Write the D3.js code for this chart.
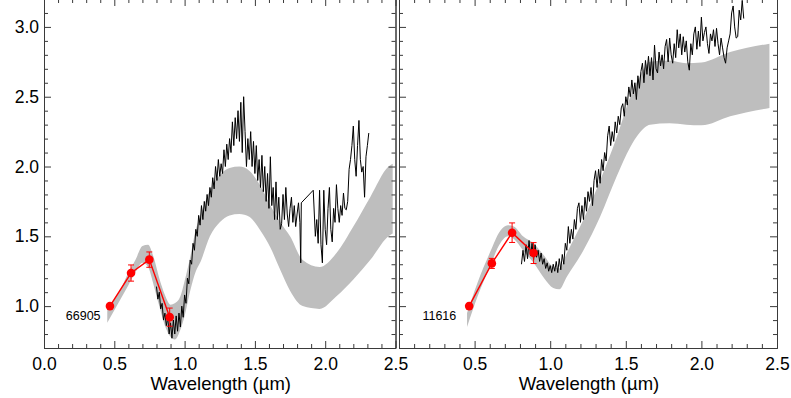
<!DOCTYPE html>
<html>
<head>
<meta charset="utf-8">
<script src="https://cdn.jsdelivr.net/npm/d3@7"></script>
<style>
	body { margin: 0; background: #fff; }
	svg { display: block; font-family: "Liberation Sans", Arial, Helvetica, sans-serif; }
</style>
</head>
<body>
<div id="chart"></div>
<script>
var objectNames = ["66905", "11616"];

var xMajor = [0.0, 0.5, 1.0, 1.5, 2.0, 2.5];
var yMajor = [1.0, 1.5, 2.0, 2.5, 3.0];

// photometry: wavelength, flux, error
var photLeft = [[0.469, 1.000, 0], [0.619, 1.237, 0.058], [0.749, 1.333, 0.055], [0.894, 0.921, 0.065]];
var photRight = [[0.464, 1.000, 0], [0.614, 1.306, 0.036], [0.748, 1.526, 0.070], [0.890, 1.380, 0.075]];

// model envelope: wavelength, lower, upper
var bandLeft = [
	[0.45, 0.88, 0.98], [0.50, 0.97, 1.05], [0.55, 1.06, 1.13], [0.60, 1.15, 1.24],
	[0.65, 1.24, 1.33], [0.70, 1.31, 1.43], [0.74, 1.28, 1.44], [0.78, 1.15, 1.35],
	[0.82, 1.00, 1.20], [0.86, 0.86, 1.08], [0.90, 0.78, 1.01], [0.93, 0.76, 1.02],
	[0.97, 0.83, 1.07], [1.00, 0.93, 1.18], [1.04, 1.11, 1.35], [1.08, 1.25, 1.55],
	[1.11, 1.31, 1.64], [1.18, 1.50, 1.83], [1.25, 1.60, 1.94], [1.32, 1.65, 1.99],
	[1.39, 1.66, 2.00], [1.46, 1.64, 1.97], [1.54, 1.54, 1.86], [1.61, 1.42, 1.72],
	[1.68, 1.26, 1.60], [1.75, 1.11, 1.50], [1.84, 1.00, 1.33], [1.96, 0.98, 1.28],
	[2.08, 1.07, 1.38], [2.20, 1.19, 1.57], [2.32, 1.33, 1.78], [2.45, 1.50, 2.00],
	[2.48, 1.52, 2.02]
];
var bandRight = [
	[0.45, 0.85, 0.95], [0.52, 1.07, 1.17], [0.60, 1.28, 1.38], [0.67, 1.45, 1.54],
	[0.72, 1.50, 1.58], [0.76, 1.48, 1.57], [0.82, 1.40, 1.50], [0.89, 1.31, 1.45],
	[0.96, 1.20, 1.36], [1.02, 1.13, 1.28], [1.06, 1.12, 1.27], [1.11, 1.21, 1.38],
	[1.22, 1.40, 1.62], [1.33, 1.64, 1.90], [1.44, 1.93, 2.21], [1.53, 2.14, 2.50],
	[1.59, 2.24, 2.64], [1.66, 2.30, 2.75], [1.79, 2.31, 2.76], [1.90, 2.30, 2.74],
	[2.00, 2.295, 2.745], [2.19, 2.36, 2.82], [2.45, 2.42, 2.88]
];

// observed spectra: wavelength, flux
var specLeft = [
	[0.80, 1.14], [0.81, 1.05], [0.82, 1.10], [0.83, 0.98], [0.84, 1.02], [0.85, 0.90],
	[0.86, 0.95], [0.87, 0.86], [0.88, 0.92], [0.89, 0.80], [0.90, 0.88], [0.91, 0.77],
	[0.92, 0.90], [0.93, 0.80], [0.94, 0.93], [0.95, 0.82], [0.96, 0.95], [0.97, 0.85],
	[0.98, 1.00], [0.99, 0.92], [1.00, 1.08], [1.01, 1.02], [1.02, 1.20], [1.03, 1.16],
	[1.04, 1.33], [1.05, 1.30], [1.06, 1.45], [1.07, 1.40], [1.08, 1.55], [1.09, 1.50],
	[1.10, 1.65], [1.11, 1.58], [1.12, 1.72], [1.13, 1.62], [1.14, 1.75], [1.15, 1.68],
	[1.16, 1.80], [1.17, 1.72], [1.18, 1.85], [1.19, 1.78], [1.20, 1.92], [1.21, 1.84],
	[1.22, 2.00], [1.23, 1.90], [1.24, 2.05], [1.25, 1.93], [1.26, 2.02], [1.27, 1.95],
	[1.28, 2.12], [1.29, 2.00], [1.30, 2.16], [1.31, 2.05], [1.32, 2.20], [1.33, 2.10],
	[1.34, 2.32], [1.35, 2.15], [1.36, 2.35], [1.37, 2.20], [1.38, 2.40], [1.39, 2.18],
	[1.40, 2.46], [1.41, 2.10], [1.42, 2.50], [1.43, 2.25], [1.44, 2.00], [1.45, 2.20],
	[1.46, 2.05], [1.47, 2.25], [1.48, 2.00], [1.49, 2.18], [1.50, 1.95], [1.51, 2.15],
	[1.52, 1.90], [1.53, 2.05], [1.54, 1.85], [1.55, 2.08], [1.56, 1.82], [1.57, 2.00],
	[1.58, 1.75], [1.59, 1.95], [1.60, 1.70], [1.61, 2.07], [1.62, 1.72], [1.63, 1.85],
	[1.64, 1.62], [1.65, 1.89], [1.66, 1.62], [1.67, 1.78], [1.68, 1.55], [1.69, 1.59],
	[1.70, 1.80], [1.71, 1.62], [1.72, 1.85], [1.73, 1.66], [1.74, 1.57], [1.75, 1.70],
	[1.76, 1.78], [1.77, 1.60], [1.78, 1.72], [1.79, 1.57], [1.80, 1.66], [1.81, 1.74],
	[1.82, 1.60], [1.826, 1.31], [1.83, 1.74], [1.915, 1.83], [1.93, 1.50], [1.94, 1.62],
	[1.95, 1.45], [1.96, 1.83], [1.97, 1.44], [1.98, 1.31], [1.99, 1.83], [2.00, 1.55],
	[2.01, 1.44], [2.02, 1.70], [2.03, 1.85], [2.04, 1.55], [2.05, 1.46], [2.06, 1.70],
	[2.07, 1.60], [2.08, 1.87], [2.09, 1.70], [2.10, 1.60], [2.11, 1.72], [2.12, 1.65],
	[2.13, 1.81], [2.14, 1.70], [2.15, 1.69], [2.16, 1.75], [2.17, 1.98], [2.18, 2.05],
	[2.19, 2.15], [2.20, 2.29], [2.21, 2.05], [2.22, 1.93], [2.23, 2.15], [2.24, 2.33],
	[2.25, 2.05], [2.26, 1.96], [2.27, 2.00], [2.28, 1.78], [2.29, 2.07], [2.30, 2.15],
	[2.31, 2.24]
];
var specRight = [
	[0.81, 1.30], [0.82, 1.40], [0.83, 1.32], [0.84, 1.44], [0.85, 1.34], [0.86, 1.47],
	[0.87, 1.36], [0.88, 1.45], [0.89, 1.33], [0.90, 1.44], [0.91, 1.35], [0.92, 1.40],
	[0.93, 1.32], [0.94, 1.38], [0.95, 1.30], [0.96, 1.34], [0.97, 1.27], [0.98, 1.31],
	[0.99, 1.25], [1.00, 1.29], [1.01, 1.24], [1.02, 1.30], [1.03, 1.25], [1.04, 1.32],
	[1.05, 1.24], [1.06, 1.34], [1.07, 1.26], [1.08, 1.37], [1.09, 1.30], [1.10, 1.45],
	[1.11, 1.40], [1.12, 1.57], [1.13, 1.45], [1.14, 1.55], [1.15, 1.48], [1.16, 1.62],
	[1.17, 1.55], [1.18, 1.70], [1.19, 1.74], [1.20, 1.60], [1.21, 1.72], [1.22, 1.62],
	[1.23, 1.78], [1.24, 1.68], [1.25, 1.82], [1.26, 1.75], [1.27, 1.85], [1.28, 1.72],
	[1.29, 1.90], [1.30, 1.97], [1.31, 1.85], [1.32, 1.98], [1.33, 1.88], [1.34, 2.05],
	[1.35, 1.97], [1.36, 2.10], [1.37, 2.04], [1.38, 2.22], [1.39, 2.29], [1.40, 2.15],
	[1.41, 2.25], [1.42, 2.18], [1.43, 2.32], [1.44, 2.24], [1.45, 2.36], [1.46, 2.30],
	[1.47, 2.42], [1.48, 2.45], [1.49, 2.36], [1.50, 2.50], [1.51, 2.44], [1.52, 2.57],
	[1.53, 2.50], [1.54, 2.62], [1.55, 2.52], [1.56, 2.60], [1.57, 2.48], [1.58, 2.65],
	[1.59, 2.56], [1.60, 2.68], [1.61, 2.74], [1.62, 2.60], [1.63, 2.76], [1.64, 2.66],
	[1.65, 2.79], [1.66, 2.65], [1.67, 2.78], [1.68, 2.62], [1.69, 2.87], [1.70, 2.70],
	[1.71, 2.67], [1.72, 2.82], [1.73, 2.72], [1.74, 2.80], [1.75, 2.70], [1.76, 2.86],
	[1.77, 2.91], [1.78, 2.75], [1.79, 2.92], [1.80, 2.80], [1.81, 2.74], [1.82, 2.88],
	[1.83, 2.78], [1.84, 2.98], [1.85, 2.85], [1.86, 2.95], [1.87, 2.80], [1.88, 2.93],
	[1.89, 2.82], [1.90, 2.90], [1.91, 2.75], [1.92, 2.69], [1.93, 2.88], [1.94, 2.80],
	[1.95, 2.95], [1.96, 3.00], [1.97, 2.84], [1.98, 2.97], [1.99, 2.86], [2.00, 3.07],
	[2.01, 2.90], [2.02, 2.96], [2.03, 3.00], [2.04, 2.88], [2.05, 2.81], [2.06, 2.95],
	[2.07, 2.90], [2.08, 2.98], [2.09, 2.86], [2.10, 2.99], [2.11, 2.88], [2.12, 2.80],
	[2.13, 2.92], [2.14, 2.85], [2.15, 2.78], [2.16, 2.74], [2.17, 2.85], [2.18, 2.90],
	[2.19, 2.95], [2.20, 3.10], [2.21, 3.15], [2.22, 3.00], [2.23, 2.92], [2.24, 2.93],
	[2.25, 3.12], [2.26, 3.05], [2.27, 3.19], [2.28, 3.06]
];

var width = 791;
var height = 398;

var panels = [
	{ name: objectNames[0], left: 44, right: 395.5, band: bandLeft, spec: specLeft, phot: photLeft, yLabels: true, xLabels: xMajor },
	{ name: objectNames[1], left: 399, right: 777, band: bandRight, spec: specRight, phot: photRight, yLabels: false, xLabels: xMajor.slice(1) }
];

var plotTop = -1, plotBottom = 348;

var y = d3.scaleLinear().domain([0.7, 3.2]).range([plotBottom, plotTop]);

var svg = d3.select('#chart')
	.append('svg')
		.attr('width', width)
		.attr('height', height);

var xMinor = d3.range(0.1, 2.5, 0.1).filter(function(v) { return Math.abs(v * 2 - Math.round(v * 2)) > 0.01; });
var yMinor = d3.range(0.7, 3.21, 0.1).filter(function(v) { return Math.abs(v * 2 - Math.round(v * 2)) > 0.01; });

function styleAxis(g) {
	g.select('.domain').attr('stroke', '#3a3a3a');
	g.selectAll('.tick line').attr('stroke', '#3a3a3a');
	g.selectAll('text')
		.attr('fill', '#000')
		.style('font-size', '17.5px')
		.style('font-family', '"Liberation Sans", Arial, Helvetica, sans-serif');
}

panels.forEach(function(p, i) {
	var x = d3.scaleLinear().domain([0, 2.5]).range([p.left, p.right]);
	var g = svg.append('g');

	g.append('clipPath')
		.attr('id', 'clip' + i)
		.append('rect')
			.attr('x', p.left)
			.attr('y', plotTop)
			.attr('width', p.right - p.left)
			.attr('height', plotBottom - plotTop);

	var plot = g.append('g').attr('clip-path', 'url(#clip' + i + ')');

	// model envelope
	var area = d3.area()
		.curve(d3.curveMonotoneX)
		.x(function(d) { return x(d[0]); })
		.y0(function(d) { return y(d[1]); })
		.y1(function(d) { return y(d[2]); });

	plot.append('path')
		.datum(p.band)
		.attr('d', area)
		.attr('fill', '#bebebe');

	// spectrum
	var line = d3.line()
		.x(function(d) { return x(d[0]); })
		.y(function(d) { return y(d[1]); });

	plot.append('path')
		.datum(p.spec)
		.attr('d', line)
		.attr('fill', 'none')
		.attr('stroke', '#000')
		.attr('stroke-width', 1);

	// photometry
	plot.append('path')
		.datum(p.phot)
		.attr('d', line)
		.attr('fill', 'none')
		.attr('stroke', '#ff0000')
		.attr('stroke-width', 1.4);

	var err = plot.selectAll('.err')
		.data(p.phot.filter(function(d) { return d[2] > 0; }))
		.enter()
		.append('g')
			.attr('stroke', '#ff0000')
			.attr('stroke-width', 1);

	err.append('line')
		.attr('x1', function(d) { return x(d[0]); })
		.attr('x2', function(d) { return x(d[0]); })
		.attr('y1', function(d) { return y(d[1] - d[2]); })
		.attr('y2', function(d) { return y(d[1] + d[2]); });
	err.append('line')
		.attr('x1', function(d) { return x(d[0]) - 3; })
		.attr('x2', function(d) { return x(d[0]) + 3; })
		.attr('y1', function(d) { return y(d[1] - d[2]); })
		.attr('y2', function(d) { return y(d[1] - d[2]); });
	err.append('line')
		.attr('x1', function(d) { return x(d[0]) - 3; })
		.attr('x2', function(d) { return x(d[0]) + 3; })
		.attr('y1', function(d) { return y(d[1] + d[2]); })
		.attr('y2', function(d) { return y(d[1] + d[2]); });

	plot.selectAll('circle')
		.data(p.phot)
		.enter()
		.append('circle')
			.attr('cx', function(d) { return x(d[0]); })
			.attr('cy', function(d) { return y(d[1]); })
			.attr('r', 4.3)
			.attr('fill', '#ff0000');

	g.append('text')
		.attr('x', x(0.155))
		.attr('y', y(0.897))
		.style('font-size', '12.5px')
		.attr('fill', '#000')
		.text(p.name);

	// axes, ticks pointing inward
	var axes = [
		{ gen: d3.axisBottom(x), tr: 'translate(0,' + plotBottom + ')', major: xMajor, minor: xMinor, labels: p.xLabels },
		{ gen: d3.axisTop(x), tr: 'translate(0,' + plotTop + ')', major: xMajor, minor: xMinor, labels: [] },
		{ gen: d3.axisLeft(y), tr: 'translate(' + p.left + ',0)', major: yMajor, minor: yMinor, labels: p.yLabels ? yMajor : [] },
		{ gen: d3.axisRight(y), tr: 'translate(' + p.right + ',0)', major: yMajor, minor: yMinor, labels: [] }
	];

	axes.forEach(function(a) {
		var gMinor = g.append('g')
			.attr('transform', a.tr)
			.call(a.gen.tickValues(a.minor).tickSizeInner(-4).tickSizeOuter(0).tickFormat(''));
		styleAxis(gMinor);

		var gMajor = g.append('g')
			.attr('transform', a.tr)
			.call(a.gen.tickValues(a.major).tickSizeInner(-7).tickSizeOuter(0).tickPadding(a.minor === xMinor ? 10 : 5)
				.tickFormat(function(d) { return a.labels.indexOf(d) >= 0 ? d3.format('.1f')(d) : ''; }));
		styleAxis(gMajor);
	});

	g.append('text')
		.attr('x', (p.left + p.right) / 2 + 1)
		.attr('y', 390)
		.attr('text-anchor', 'middle')
		.style('font-size', '18.5px')
		.attr('fill', '#000')
		.text('Wavelength (\u00b5m)');
});
</script>
</body>
</html>
